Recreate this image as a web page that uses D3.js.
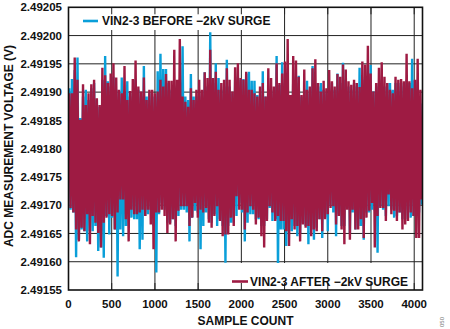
<!DOCTYPE html>
<html>
<head>
<meta charset="utf-8">
<script src="https://cdn.jsdelivr.net/npm/d3@7/dist/d3.min.js"></script>
<style>
  html, body { margin: 0; padding: 0; background: #fff; }
  svg { display: block; }
  text { font-family: "Liberation Sans", Arial, sans-serif; font-weight: bold; fill: #111; }
</style>
</head>
<body>
<svg id="chart" width="450" height="329"></svg>
<script>
// ---------- data ----------
const sampleCount = 4096;
const binSize = 32; // each value pair = envelope (max, min) of 32 consecutive samples
const xTicks = [0, 500, 1000, 1500, 2000, 2500, 3000, 3500, 4000];
const yTicks = [2.49155, 2.49160, 2.49165, 2.49170, 2.49175, 2.49180, 2.49185, 2.49190, 2.49195, 2.49200, 2.49205];
const seriesNames = ["VIN2-3 BEFORE \u22122kV SURGE", "VIN2-3 AFTER \u22122kV SURGE"];

// BEFORE surge (blue): per-bin maximum and minimum, volts
const beforeMax = [
2.491907,2.491923,2.491939,2.491961,2.491854,2.491892,2.491904,2.491886,2.491907,2.491916,
2.491886,2.491874,2.491922,2.491964,2.491919,2.491910,2.491927,2.491904,2.491898,2.491926,
2.491898,2.491919,2.491892,2.491898,2.491922,2.491904,2.491892,2.491946,2.491892,2.491898,
2.491892,2.491892,2.491937,2.491968,2.491941,2.491941,2.491916,2.491904,2.491910,2.491898,
2.491922,2.491981,2.491892,2.491886,2.491932,2.491892,2.491892,2.491898,2.491892,2.491935,
2.491910,2.492006,2.491916,2.491951,2.491925,2.491904,2.491910,2.491957,2.491910,2.491898,
2.491922,2.491927,2.491922,2.491923,
2.491933,2.491936,2.491920,2.491920,2.491895,2.491895,2.491937,2.491892,2.491904,2.491898,
2.491904,2.491964,2.491913,2.491953,2.491916,2.491922,2.491892,2.491922,2.491916,2.491929,
2.491892,2.491904,2.491920,2.491898,2.491946,2.491916,2.491910,2.491916,2.491904,2.491898,
2.491904,2.491916,2.491904,2.491933,2.491916,2.491952,2.491922,2.491910,2.491904,2.491916,
2.491910,2.491943,2.491922,2.491927,2.491922,2.491948,2.491901,2.491910,2.491916,2.491922,
2.491910,2.491916,2.491916,2.491904,2.491916,2.491916,2.491910,2.491916,2.491922,2.491916,
2.491959,2.491920,2.491922,2.491880
];
const beforeMin = [
2.491692,2.491687,2.491608,2.491639,2.491657,2.491654,2.491636,2.491654,2.491654,2.491663,
2.491619,2.491625,2.491607,2.491681,2.491648,2.491678,2.491657,2.491574,2.491657,2.491645,
2.491663,2.491663,2.491678,2.491675,2.491675,2.491622,2.491639,2.491681,2.491684,2.491692,
2.491663,2.491581,2.491684,2.491704,2.491692,2.491669,2.491669,2.491675,2.491663,2.491681,
2.491692,2.491692,2.491687,2.491636,2.491678,2.491690,2.491687,2.491622,2.491663,2.491687,
2.491675,2.491669,2.491684,2.491663,2.491675,2.491663,2.491598,2.491663,2.491669,2.491669,
2.491681,2.491704,2.491687,2.491636,
2.491669,2.491684,2.491684,2.491675,2.491675,2.491663,2.491663,2.491675,2.491695,2.491672,
2.491675,2.491586,2.491657,2.491657,2.491628,2.491654,2.491654,2.491663,2.491645,2.491651,
2.491669,2.491663,2.491631,2.491657,2.491639,2.491660,2.491675,2.491642,2.491678,2.491654,
2.491701,2.491687,2.491645,2.491684,2.491663,2.491663,2.491695,2.491651,2.491687,2.491657,
2.491663,2.491663,2.491639,2.491687,2.491687,2.491692,2.491690,2.491616,2.491698,2.491692,
2.491681,2.491698,2.491692,2.491678,2.491681,2.491687,2.491675,2.491675,2.491692,2.491678,
2.491681,2.491687,2.491687,2.491701
];
// AFTER surge (red): per-bin maximum and minimum, volts
const afterMax = [
2.491898,2.491898,2.491961,2.491922,2.491851,2.491914,2.491877,2.491898,2.491914,2.491922,
2.491889,2.491877,2.491943,2.491930,2.491916,2.491933,2.491951,2.491926,2.491904,2.491898,
2.491946,2.491886,2.491902,2.491923,2.491956,2.491910,2.491901,2.491926,2.491886,2.491904,
2.491904,2.491898,2.491901,2.491922,2.491910,2.491932,2.491920,2.491920,2.491975,2.491922,
2.491994,2.491892,2.491883,2.491874,2.491907,2.491886,2.491904,2.491922,2.491904,2.491935,
2.491925,2.491975,2.491925,2.491936,2.491904,2.491916,2.491922,2.491942,2.491922,2.491901,
2.491944,2.491951,2.491925,2.491922,
2.491936,2.491904,2.491904,2.491898,2.491892,2.491910,2.491916,2.491892,2.491942,2.491925,
2.491910,2.491951,2.491916,2.491933,2.491954,2.491994,2.491895,2.491964,2.491956,2.491927,
2.491895,2.491940,2.491904,2.491910,2.491942,2.491958,2.491916,2.491901,2.491920,2.491907,
2.491939,2.491919,2.491910,2.491932,2.491927,2.491949,2.491940,2.491919,2.491913,2.491922,
2.491916,2.491909,2.491954,2.491949,2.491982,2.491933,2.491901,2.491916,2.491943,2.491953,
2.491927,2.491916,2.491904,2.491898,2.491927,2.491922,2.491923,2.491919,2.491968,2.491919,
2.491907,2.491922,2.491959,2.491904
];
const afterMin = [
2.491695,2.491687,2.491657,2.491636,2.491660,2.491654,2.491684,2.491631,2.491681,2.491669,
2.491651,2.491625,2.491669,2.491678,2.491684,2.491681,2.491657,2.491687,2.491710,2.491710,
2.491675,2.491636,2.491692,2.491684,2.491684,2.491687,2.491692,2.491681,2.491692,2.491666,
2.491622,2.491687,2.491687,2.491692,2.491681,2.491651,2.491666,2.491675,2.491636,2.491690,
2.491698,2.491698,2.491698,2.491663,2.491678,2.491704,2.491678,2.491692,2.491687,2.491695,
2.491669,2.491660,2.491681,2.491698,2.491672,2.491645,2.491648,2.491648,2.491678,2.491663,
2.491716,2.491692,2.491692,2.491657,
2.491687,2.491698,2.491692,2.491666,2.491678,2.491645,2.491625,2.491672,2.491698,2.491687,
2.491672,2.491681,2.491672,2.491672,2.491654,2.491628,2.491675,2.491657,2.491663,2.491636,
2.491666,2.491660,2.491663,2.491645,2.491657,2.491654,2.491675,2.491654,2.491675,2.491684,
2.491695,2.491698,2.491666,2.491681,2.491657,2.491631,2.491692,2.491639,2.491692,2.491657,
2.491657,2.491675,2.491642,2.491678,2.491690,2.491704,2.491625,2.491681,2.491695,2.491695,
2.491672,2.491719,2.491684,2.491690,2.491672,2.491687,2.491657,2.491666,2.491672,2.491687,
2.491681,2.491642,2.491642,2.491710
];

// ---------- drawing ----------
const W = 450, H = 329;
const plot = { left: 68.5, right: 422.5, top: 7.3, bottom: 290 };
const blue = "#0a9fd9", red = "#9e1b43";

const svg = d3.select("#chart");
svg.append("rect").attr("width", W).attr("height", H).attr("fill", "#fff");

const x = d3.scaleLinear().domain([0, sampleCount]).range([plot.left, plot.right]);
const y = d3.scaleLinear().domain([yTicks[0], yTicks[yTicks.length - 1]]).range([plot.bottom, plot.top]);

// gridlines
const grid = svg.append("g");
grid.selectAll("line.h").data(yTicks.slice(1, -1)).enter().append("line")
  .attr("x1", plot.left).attr("x2", plot.right)
  .attr("y1", d => y(d)).attr("y2", d => y(d))
  .attr("stroke", "#222").attr("stroke-width", 1);
grid.selectAll("line.v").data(xTicks.slice(1)).enter().append("line")
  .attr("x1", d => x(d)).attr("x2", d => x(d))
  .attr("y1", plot.top).attr("y2", plot.bottom)
  .attr("stroke", "#222").attr("stroke-width", 1);

// clip
svg.append("clipPath").attr("id", "clip").append("rect")
  .attr("x", plot.left).attr("y", plot.top)
  .attr("width", plot.right - plot.left).attr("height", plot.bottom - plot.top);

function zigzag(maxArr, minArr) {
  const pts = [];
  maxArr.forEach((v, i) => {
    pts.push([i * binSize + binSize * 0.25, v]);
    pts.push([i * binSize + binSize * 0.75, minArr[i]]);
  });
  return pts;
}
const line = d3.line().x(d => x(d[0])).y(d => y(d[1]));

const dataG = svg.append("g").attr("clip-path", "url(#clip)");
dataG.append("path").datum(zigzag(beforeMax, beforeMin))
  .attr("d", line).attr("fill", "none").attr("stroke", blue).attr("stroke-width", 2.4).attr("stroke-linejoin", "bevel");
dataG.append("path").datum(zigzag(afterMax, afterMin))
  .attr("d", line).attr("fill", "none").attr("stroke", red).attr("stroke-width", 2.4).attr("stroke-linejoin", "bevel");

// legend boxes (white, covering gridlines)
svg.append("rect").attr("x", plot.left).attr("y", plot.top).attr("width", 273 - plot.left).attr("height", 30 - plot.top).attr("fill", "#fff");
svg.append("rect").attr("x", 228).attr("y", 263).attr("width", 412 - 228).attr("height", plot.bottom - 263).attr("fill", "#fff");

// inner ticks on top and bottom axes
const tickG = svg.append("g");
tickG.selectAll("line.bt").data(xTicks.slice(1)).enter().append("line")
  .attr("x1", d => x(d)).attr("x2", d => x(d))
  .attr("y1", plot.bottom).attr("y2", plot.bottom - 7)
  .attr("stroke", "#222").attr("stroke-width", 1);
tickG.selectAll("line.tt").data(xTicks.slice(1)).enter().append("line")
  .attr("x1", d => x(d)).attr("x2", d => x(d))
  .attr("y1", plot.top).attr("y2", plot.top + 7)
  .attr("stroke", "#222").attr("stroke-width", 1);

// frame
svg.append("rect").attr("x", plot.left).attr("y", plot.top)
  .attr("width", plot.right - plot.left).attr("height", plot.bottom - plot.top)
  .attr("fill", "none").attr("stroke", "#111").attr("stroke-width", 1.6);

// tick labels
const fmt = d3.format(".5f");
svg.append("g").selectAll("text").data(yTicks).enter().append("text")
  .attr("x", 62).attr("y", d => y(d)).attr("dy", "0.36em")
  .attr("text-anchor", "end").attr("font-size", "11.5px").text(d => fmt(d));
svg.append("g").selectAll("text").data(xTicks).enter().append("text")
  .attr("x", d => x(d)).attr("y", 307.5)
  .attr("text-anchor", "middle").attr("font-size", "11.5px").text(d => d);

// axis titles
svg.append("text").attr("x", (plot.left + plot.right) / 2).attr("y", 324.5)
  .attr("text-anchor", "middle").attr("font-size", "12px").text("SAMPLE COUNT");
svg.append("text").attr("transform", "translate(12.8,146) rotate(-90)")
  .attr("text-anchor", "middle").attr("font-size", "12px").text("ADC MEASUREMENT VOLTAGE (V)");

// legends
svg.append("line").attr("x1", 83).attr("x2", 98).attr("y1", 21).attr("y2", 21)
  .attr("stroke", blue).attr("stroke-width", 2.6);
svg.append("text").attr("x", 102).attr("y", 25.2).attr("font-size", "12px").text(seriesNames[0]);
svg.append("line").attr("x1", 232).attr("x2", 248).attr("y1", 281.5).attr("y2", 281.5)
  .attr("stroke", red).attr("stroke-width", 2.6);
svg.append("text").attr("x", 408).attr("y", 285.8).attr("text-anchor", "end").attr("font-size", "12px").text(seriesNames[1]);

// figure id
svg.append("text").attr("transform", "translate(444,322) rotate(-90)")
  .attr("font-size", "6px").attr("text-anchor", "middle")
  .style("fill", "#777").style("font-weight", "normal").text("050");
</script>
</body>
</html>
